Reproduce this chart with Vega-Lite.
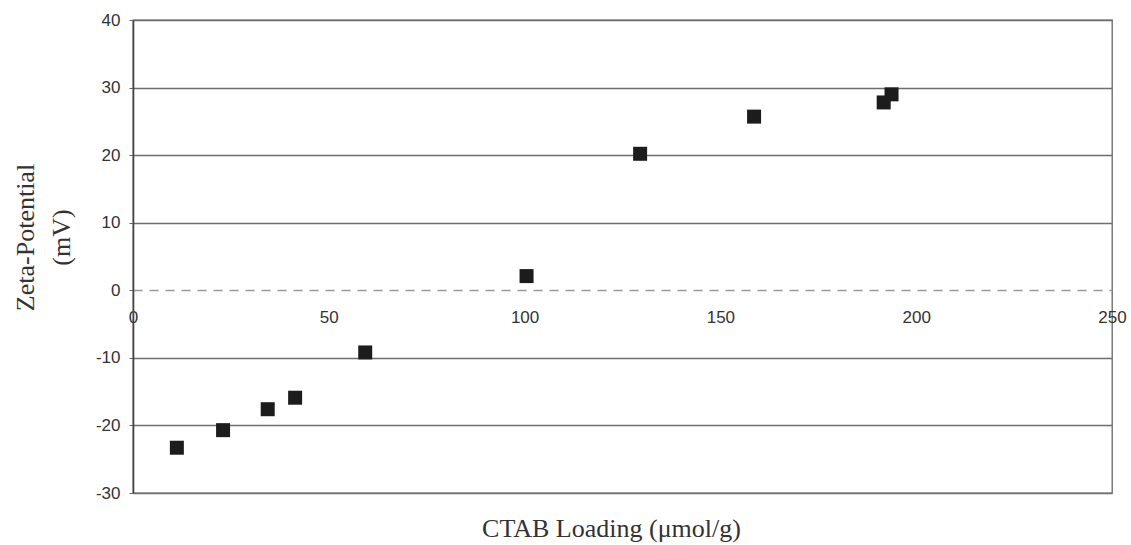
{
  "$schema": "https://vega.github.io/schema/vega-lite/v6.json",
  "width": 979,
  "height": 473,
  "autosize": {"type": "none"},
  "padding": {"left": 133, "top": 20, "right": 19, "bottom": 52},
  "background": "white",
  "config": {
    "view": {"stroke": "#666666", "strokeWidth": 1.3},
    "font": "Liberation Serif"
  },
  "data": {
    "values": [
      {"loading": 11.2, "zeta": -23.3},
      {"loading": 23.0, "zeta": -20.7},
      {"loading": 34.4, "zeta": -17.6},
      {"loading": 41.4, "zeta": -15.9},
      {"loading": 59.3, "zeta": -9.2},
      {"loading": 100.5, "zeta": 2.1},
      {"loading": 129.5, "zeta": 20.2},
      {"loading": 158.6, "zeta": 25.7},
      {"loading": 191.7, "zeta": 27.8},
      {"loading": 193.7, "zeta": 29.0}
    ]
  },
  "mark": {"type": "square", "size": 196, "color": "#1c1c1c", "opacity": 1, "filled": true},
  "encoding": {
    "x": {
      "field": "loading",
      "type": "quantitative",
      "scale": {"domain": [0, 250], "nice": false, "zero": false},
      "axis": {
        "values": [0, 50, 100, 150, 200, 250],
        "offset": -203,
        "domain": false,
        "ticks": false,
        "grid": false,
        "labelFlush": false,
        "labelPadding": 19,
        "labelFont": "Liberation Sans",
        "labelFontSize": 17,
        "labelColor": "#333333",
        "title": "CTAB Loading (μmol/g)",
        "titleFont": "Liberation Serif",
        "titleFontSize": 26,
        "titleFontWeight": "normal",
        "titleColor": "#333333",
        "titlePadding": 190,
        "titleX": 478,
        "titleAlign": "center"
      }
    },
    "y": {
      "field": "zeta",
      "type": "quantitative",
      "scale": {"domain": [-30, 40], "nice": false, "zero": false},
      "axis": {
        "values": [-30, -20, -10, 0, 10, 20, 30, 40],
        "labelExpr": "datum.value < 0 ? '-' + abs(datum.value) : '' + datum.value",
        "grid": true,
        "gridColor": {"condition": {"test": "datum.value === 0", "value": "#9a9a9a"}, "value": "#6e6e6e"},
        "gridDash": {"condition": {"test": "datum.value === 0", "value": [9, 7]}, "value": []},
        "gridWidth": 1.3,
        "gridOpacity": 1,
        "domain": true,
        "domainColor": "#444444",
        "domainWidth": 1.6,
        "ticks": true,
        "tickSize": 4,
        "tickColor": "#666666",
        "labelPadding": 9,
        "labelFont": "Liberation Sans",
        "labelFontSize": 17,
        "labelColor": "#333333",
        "title": ["Zeta-Potential", "(mV)"],
        "titleFont": "Liberation Serif",
        "titleFontSize": 26,
        "titleFontWeight": "normal",
        "titleColor": "#333333",
        "titleLineHeight": 36,
        "titleAngle": -90,
        "titleX": -108,
        "titleY": 217,
        "titleAlign": "center",
        "titleBaseline": "middle"
      }
    }
  }
}
